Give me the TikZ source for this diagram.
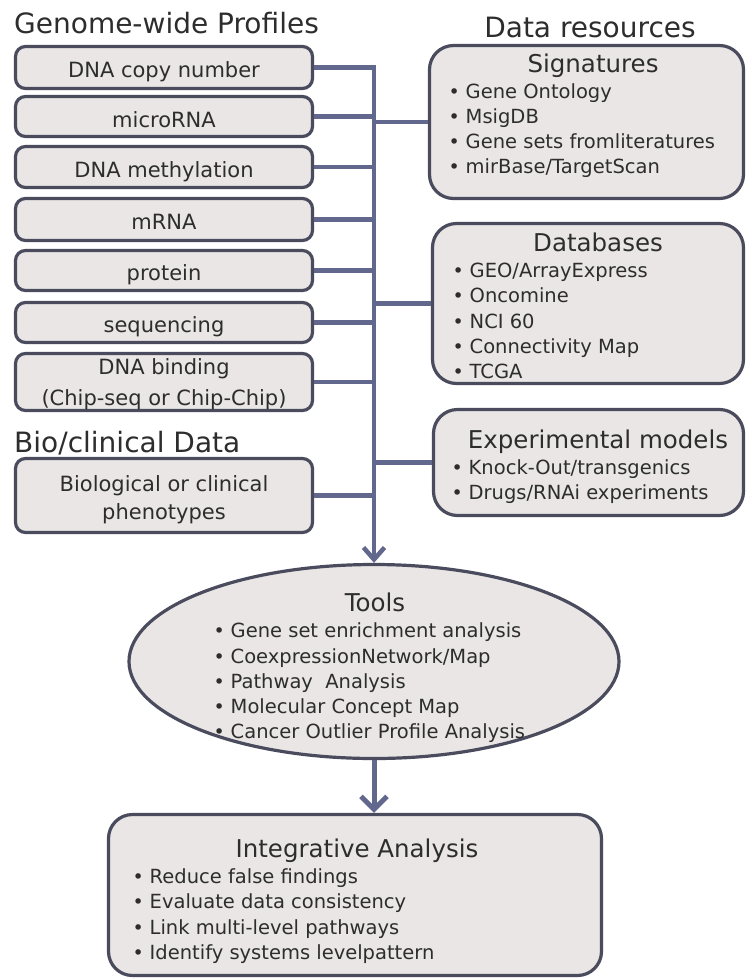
\documentclass[tikz,border=0pt]{standalone}
\usepackage{fontspec}
\setmainfont{DejaVu Sans}
\usetikzlibrary{shapes.geometric,arrows.meta}
\definecolor{boxfill}{RGB}{233,230,229}
\definecolor{bordc}{RGB}{74,76,94}
\definecolor{connc}{RGB}{98,103,142}
\definecolor{textc}{RGB}{45,45,45}
\newcommand{\bl}{\makebox[12pt]{\fontsize{19}{19}\selectfont •}\hspace{5.5pt}}
\begin{document}
\begin{tikzpicture}[x=1pt,y=-1pt,
  lbox/.style={draw=bordc, fill=boxfill, line width=3.2pt, rounded corners=10pt, minimum width=297pt, inner sep=0pt},
  rbox/.style={draw=bordc, fill=boxfill, line width=3.2pt, rounded corners=24pt, inner sep=0pt},
  conn/.style={draw=connc, line width=4.5pt},
  ttl/.style={font=\fontsize{28}{30}\selectfont, text=textc, inner sep=0pt},
  hd/.style={font=\fontsize{24.5}{28}\selectfont, text=textc, inner sep=0pt, anchor=base},
  lt/.style={font=\fontsize{21}{24}\selectfont, text=textc, inner sep=0pt, anchor=base},
  bt/.style={font=\fontsize{19.5}{24}\selectfont, text=textc, inner sep=0pt, anchor=base west}]
\useasboundingbox[fill=white] (0,0) rectangle (747,978);

% titles
\node[ttl, anchor=base west] (tgen) at (14,33) {Genome-wide Profiles};
\node[ttl, anchor=base] (tdat) at (590,37) {Data resources};
\node[ttl, anchor=base west] (tbio) at (14,452) {Bio/clinical Data};

% left boxes
\node[lbox, minimum height=42pt] (b1) at (164,67.5) {};
\node[lbox, minimum height=40pt] (b2) at (164,116.5) {};
\node[lbox, minimum height=41pt] (b3) at (164,167) {};
\node[lbox, minimum height=42pt] (b4) at (164,219.5) {};
\node[lbox, minimum height=40pt] (b5) at (164,270.5) {};
\node[lbox, minimum height=40pt] (b6) at (164,322.5) {};
\node[lbox, minimum height=57pt] (b7) at (164,382) {};
\node[lbox, minimum height=74pt] (b8) at (164,495.5) {};

\node[lt] (l1) at (164,77) {DNA copy number};
\node[lt] (l2) at (164,127) {microRNA};
\node[lt] (l3) at (164,177) {DNA methylation};
\node[lt] (l4) at (164,229) {mRNA};
\node[lt] (l5) at (164,280) {protein};
\node[lt] (l6) at (164,332) {sequencing};
\node[lt] (l7a) at (164,374) {DNA binding};
\node[lt] (l7b) at (164,405) {(Chip-seq or Chip-Chip)};
\node[lt] (l8a) at (164,491) {Biological or clinical};
\node[lt] (l8b) at (164,519) {phenotypes};

% right boxes
\node[rbox, minimum width=314pt, minimum height=153pt] (sig) at (586.5,122) {};
\node[rbox, minimum width=311pt, minimum height=160pt] (db) at (588,303.5) {};
\node[rbox, minimum width=310pt, minimum height=106pt] (ex) at (588.5,462.5) {};

\node[hd] (hsig) at (593,72) {Signatures};
\node[bt] (s1) at (448,98) {\bl Gene Ontology};
\node[bt] (s2) at (448,123) {\bl MsigDB};
\node[bt] (s3) at (448,148) {\bl Gene sets fromliteratures};
\node[bt] (s4) at (448,173) {\bl mirBase/TargetScan};

\node[hd] (hdb) at (598,251) {Databases};
\node[bt] (d1) at (452,277) {\bl GEO/ArrayExpress};
\node[bt] (d2) at (452,302) {\bl Oncomine};
\node[bt] (d3) at (452,328) {\bl NCI 60};
\node[bt] (d4) at (452,353) {\bl Connectivity Map};
\node[bt] (d5) at (452,378) {\bl TCGA};

\node[hd] (hex) at (598,448) {Experimental models};
\node[bt] (e1) at (451,474) {\bl Knock-Out/transgenics};
\node[bt] (e2) at (451,499) {\bl Drugs/RNAi experiments};

% tools ellipse
\node[ellipse, draw=bordc, fill=boxfill, line width=3.2pt, minimum width=490pt, minimum height=194pt, inner sep=0pt] (tools) at (374,661.5) {};
\node[hd] (htools) at (375,611) {Tools};
\node[bt] (t1) at (213,637) {\bl Gene set enrichment analysis};
\node[bt] (t2) at (213,663) {\bl CoexpressionNetwork/Map};
\node[bt] (t3) at (213,688) {\bl Pathway\ \ Analysis};
\node[bt] (t4) at (213,713) {\bl Molecular Concept Map};
\node[bt] (t5) at (213,738) {\bl Cancer Outlier Profile Analysis};

% integrative box
\node[rbox, minimum width=493pt, minimum height=161pt] (integ) at (355,895) {};
\node[hd] (hint) at (357,857) {Integrative Analysis};
\node[bt] (i1) at (132,883) {\bl Reduce false findings};
\node[bt] (i2) at (132,908) {\bl Evaluate data consistency};
\node[bt] (i3) at (132,934) {\bl Link multi-level pathways};
\node[bt] (i4) at (132,959) {\bl Identify systems levelpattern};

% connectors
\coordinate (tt) at (374,67.5);
\draw[conn, -{Straight Barb[length=12pt,width=21pt]}] (b1.east) -- (tt) -- (tools.north);
\foreach \b in {b2,b3,b4,b5,b6,b7,b8}
  \draw[conn] (\b.east) -- (\b.east -| tt);
\foreach \b in {sig,db,ex}
  \draw[conn] (\b.west -| tt) -- (\b.west);
\draw[conn, line width=5pt, -{Straight Barb[length=13pt,width=26pt]}] (tools.south) -- (tools.south |- integ.north);
\end{tikzpicture}
\end{document}
